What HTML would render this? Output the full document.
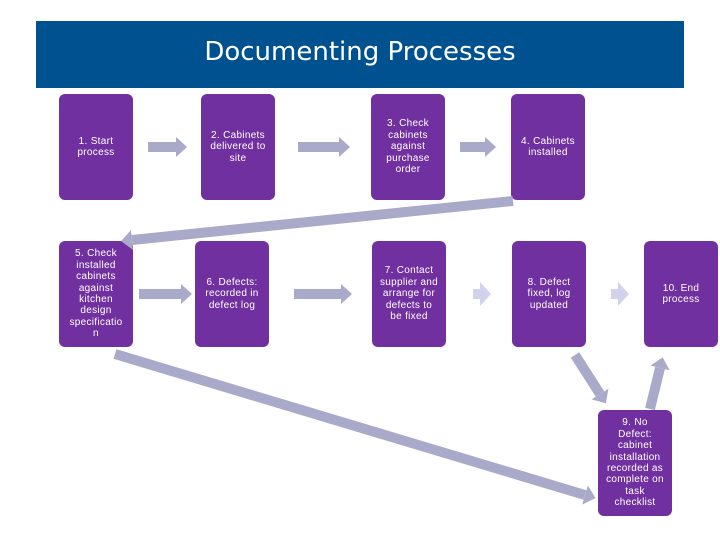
<!DOCTYPE html>
<html><head><style>
body{margin:0;width:720px;height:540px;background:#fff;position:relative;overflow:hidden;font-family:"Liberation Sans",sans-serif}
.hd{position:absolute;left:36px;top:21px;width:648px;height:67px;background:#00518f;color:#fff;font-size:26px;text-align:center;line-height:62px;font-family:"DejaVu Sans","Liberation Sans",sans-serif}
.b{position:absolute;width:74px;height:106px;background:#7030a0;border-radius:6px;color:#fff;font-size:10px;line-height:11.4px;display:flex;align-items:center;justify-content:center;text-align:center;letter-spacing:0.3px}
svg{position:absolute;left:0;top:0}
</style></head><body>
<div class="hd">Documenting Processes</div>
<div class="b" style="left:59px;top:94px">1. Start<br>process</div>
<div class="b" style="left:201px;top:94px">2. Cabinets<br>delivered to<br>site</div>
<div class="b" style="left:371px;top:94px">3. Check<br>cabinets<br>against<br>purchase<br>order</div>
<div class="b" style="left:511px;top:94px">4. Cabinets<br>installed</div>
<div class="b" style="left:59px;top:241px">5. Check<br>installed<br>cabinets<br>against<br>kitchen<br>design<br>specificatio<br>n</div>
<div class="b" style="left:195px;top:241px">6. Defects:<br>recorded in<br>defect log</div>
<div class="b" style="left:372px;top:241px">7. Contact<br>supplier and<br>arrange for<br>defects to<br>be fixed</div>
<div class="b" style="left:512px;top:241px">8. Defect<br>fixed, log<br>updated</div>
<div class="b" style="left:644px;top:241px">10. End<br>process</div>
<div class="b" style="left:598px;top:410px">9. No<br>Defect:<br>cabinet<br>installation<br>recorded as<br>complete on<br>task<br>checklist</div>
<svg width="720" height="540">
<defs>
<marker id="h" markerWidth="2" markerHeight="2" refX="0" refY="1" orient="auto" markerUnits="strokeWidth"><path d="M0,0 L1.1,1 L0,2z" fill="#a9a9c9"/></marker>
</defs>
<g stroke="#a9a9c9" stroke-width="10" marker-end="url(#h)" fill="none">
<line x1="148" y1="147" x2="176" y2="147"/>
<line x1="298" y1="147" x2="339" y2="147"/>
<line x1="460" y1="147" x2="485" y2="147"/>
<line x1="139" y1="294" x2="181" y2="294"/>
<line x1="294" y1="294" x2="341" y2="294"/>
<line x1="513" y1="201" x2="132" y2="240"/>
<line x1="115" y1="354" x2="585" y2="495"/>
<line x1="575" y1="355" x2="600" y2="394"/>
<line x1="650" y1="409" x2="660" y2="368"/>
</g>
<g fill="#d2d2ec">
<path d="M473,289 h7 v-7 l11,12 l-11,12 v-7 h-7z"/>
<path d="M611,289 h7 v-7 l11,12 l-11,12 v-7 h-7z"/>
</g>
</svg>
</body></html>
